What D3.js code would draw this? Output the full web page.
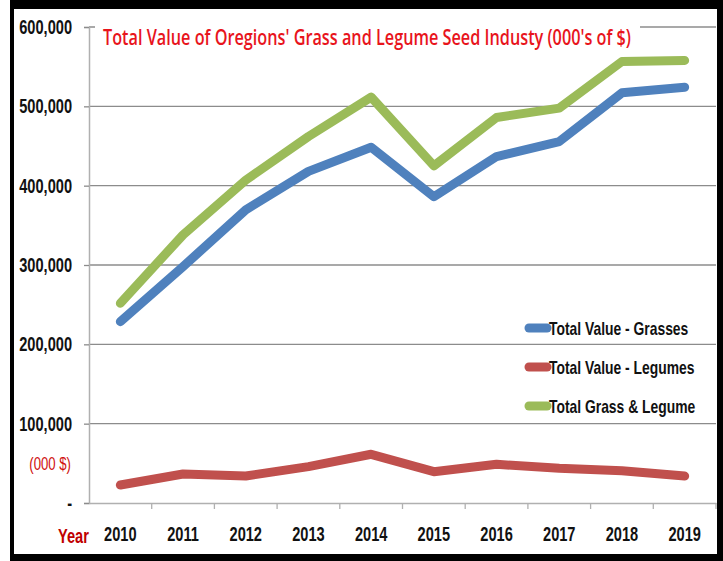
<!DOCTYPE html>
<html>
<head>
<meta charset="utf-8">
<script src="https://cdn.jsdelivr.net/npm/d3@7"></script>
<style>
  body { margin: 0; background: #fff; }
  svg { display: block; }
  .lbl { font-family: "Liberation Sans", Arial, sans-serif; font-weight: bold; }
</style>
</head>
<body>
<svg id="chart" width="723" height="561"></svg>
<script>
var years = ["2010", "2011", "2012", "2013", "2014", "2015", "2016", "2017", "2018", "2019"];
var grasses = [228600, 298000, 369500, 418000, 448500, 386000, 436700, 455600, 517000, 524000];
var legumes = [22700, 36600, 34000, 45800, 61400, 39500, 48800, 43700, 40700, 34000];
var totals = [251800, 338000, 407000, 462000, 511600, 425000, 486000, 497700, 556500, 557800];
var yTicks = [0, 100000, 200000, 300000, 400000, 500000, 600000];
var seriesNames = ["Total Value - Grasses", "Total Value - Legumes", "Total Grass & Legume"];
var seriesColors = ["#4f81bd", "#c0504d", "#9bbb59"];

var svg = d3.select("#chart");

// frame
svg.append("rect").attr("x", 10).attr("y", 0).attr("width", 713).attr("height", 561).attr("fill", "#000");
svg.append("rect").attr("x", 14).attr("y", 9).attr("width", 703).attr("height", 545).attr("fill", "#fff");

var plot = {left: 89, right: 716, top: 27, bottom: 503};

var x = d3.scaleBand()
  .domain(years)
  .range([plot.left, plot.right])
  .padding(0);

var y = d3.scaleLinear()
  .domain([0, 600000])
  .range([plot.bottom, plot.top]);

// gridlines
svg.append("g")
  .selectAll("line")
  .data(yTicks.slice(1))
  .enter().append("line")
  .attr("x1", plot.left)
  .attr("x2", plot.right)
  .attr("y1", function(d) { return y(d); })
  .attr("y2", function(d) { return y(d); })
  .attr("stroke", "#8c8c8c")
  .attr("stroke-width", 1.3);

// y axis
var yAxis = svg.append("g")
  .attr("transform", "translate(" + plot.left + ",0)")
  .call(d3.axisLeft(y).tickValues(yTicks).tickSize(5).tickPadding(12)
    .tickFormat(function(d) { return d === 0 ? "-" : d3.format(",")(d); }));
yAxis.select(".domain").attr("stroke", "#b0b0b0").attr("stroke-width", 1.5);
yAxis.selectAll(".tick line").attr("stroke", "#8c8c8c").attr("stroke-width", 1.3);
yAxis.selectAll(".tick text")
  .attr("class", "lbl")
  .style("font-size", "20px")
  .attr("fill", "#111");

// x axis
var xAxis = svg.append("g")
  .attr("transform", "translate(0," + plot.bottom + ")")
  .call(d3.axisBottom(x).tickSize(0).tickPadding(24));
xAxis.select(".domain").attr("stroke", "#b0b0b0").attr("stroke-width", 1.5);
xAxis.selectAll(".tick text")
  .attr("class", "lbl")
  .style("font-size", "20px")
  .attr("fill", "#111");

// category separator ticks
svg.append("g")
  .selectAll("line")
  .data(years)
  .enter().append("line")
  .attr("x1", function(d, i) { return plot.left + x.step() * (i + 1); })
  .attr("x2", function(d, i) { return plot.left + x.step() * (i + 1); })
  .attr("y1", plot.bottom)
  .attr("y2", plot.bottom + 6)
  .attr("stroke", "#b0b0b0")
  .attr("stroke-width", 1.3);

// title with white box
svg.append("rect").attr("x", 95).attr("y", 20).attr("width", 545).attr("height", 30).attr("fill", "#fff");
svg.append("text")
  .attr("x", 103)
  .attr("y", 45)
  .attr("textLength", 528)
  .attr("lengthAdjust", "spacingAndGlyphs")
  .style("font-family", "'Open Sans', sans-serif")
  .style("font-size", "21px")
  .style("font-weight", "600")
  .attr("fill", "#e8141c")
  .text("Total Value of Oregions' Grass and Legume Seed Industy (000's of $)");

// red axis notes
svg.append("text").attr("class", "lbl")
  .attr("x", 71).attr("y", 470)
  .attr("text-anchor", "end")
  .style("font-size", "18px").style("font-weight", "normal")
  .attr("fill", "#d01010")
  .text("(000 $)");
svg.append("text").attr("class", "lbl")
  .attr("x", 58).attr("y", 543)
  .style("font-size", "20px")
  .attr("fill", "#c00000")
  .text("Year");

// lines
var line = d3.line()
  .x(function(d, i) { return x(years[i]) + x.bandwidth() / 2; })
  .y(function(d) { return y(d); });

[grasses, legumes, totals].forEach(function(s, i) {
  svg.append("path")
    .datum(s)
    .attr("d", line)
    .attr("fill", "none")
    .attr("stroke", seriesColors[i])
    .attr("stroke-width", 9)
    .attr("stroke-linejoin", "round")
    .attr("stroke-linecap", "round");
});

// legend
var legend = svg.append("g").attr("transform", "translate(525,328)");
seriesNames.forEach(function(name, i) {
  var g = legend.append("g").attr("transform", "translate(0," + (i * 39) + ")");
  g.append("line")
    .attr("x1", 4).attr("x2", 22)
    .attr("y1", 0).attr("y2", 0)
    .attr("stroke", seriesColors[i])
    .attr("stroke-width", 9)
    .attr("stroke-linecap", "round");
  g.append("text").attr("class", "lbl")
    .attr("x", 24)
    .attr("y", 7)
    .style("font-size", "19px")
    .attr("fill", "#111")
    .text(name);
});

// condense the bold labels to look like a narrow face
svg.selectAll(".lbl").each(function() {
  var w = this.getComputedTextLength();
  d3.select(this)
    .attr("textLength", w * 0.73)
    .attr("lengthAdjust", "spacingAndGlyphs");
});
</script>
</body>
</html>
